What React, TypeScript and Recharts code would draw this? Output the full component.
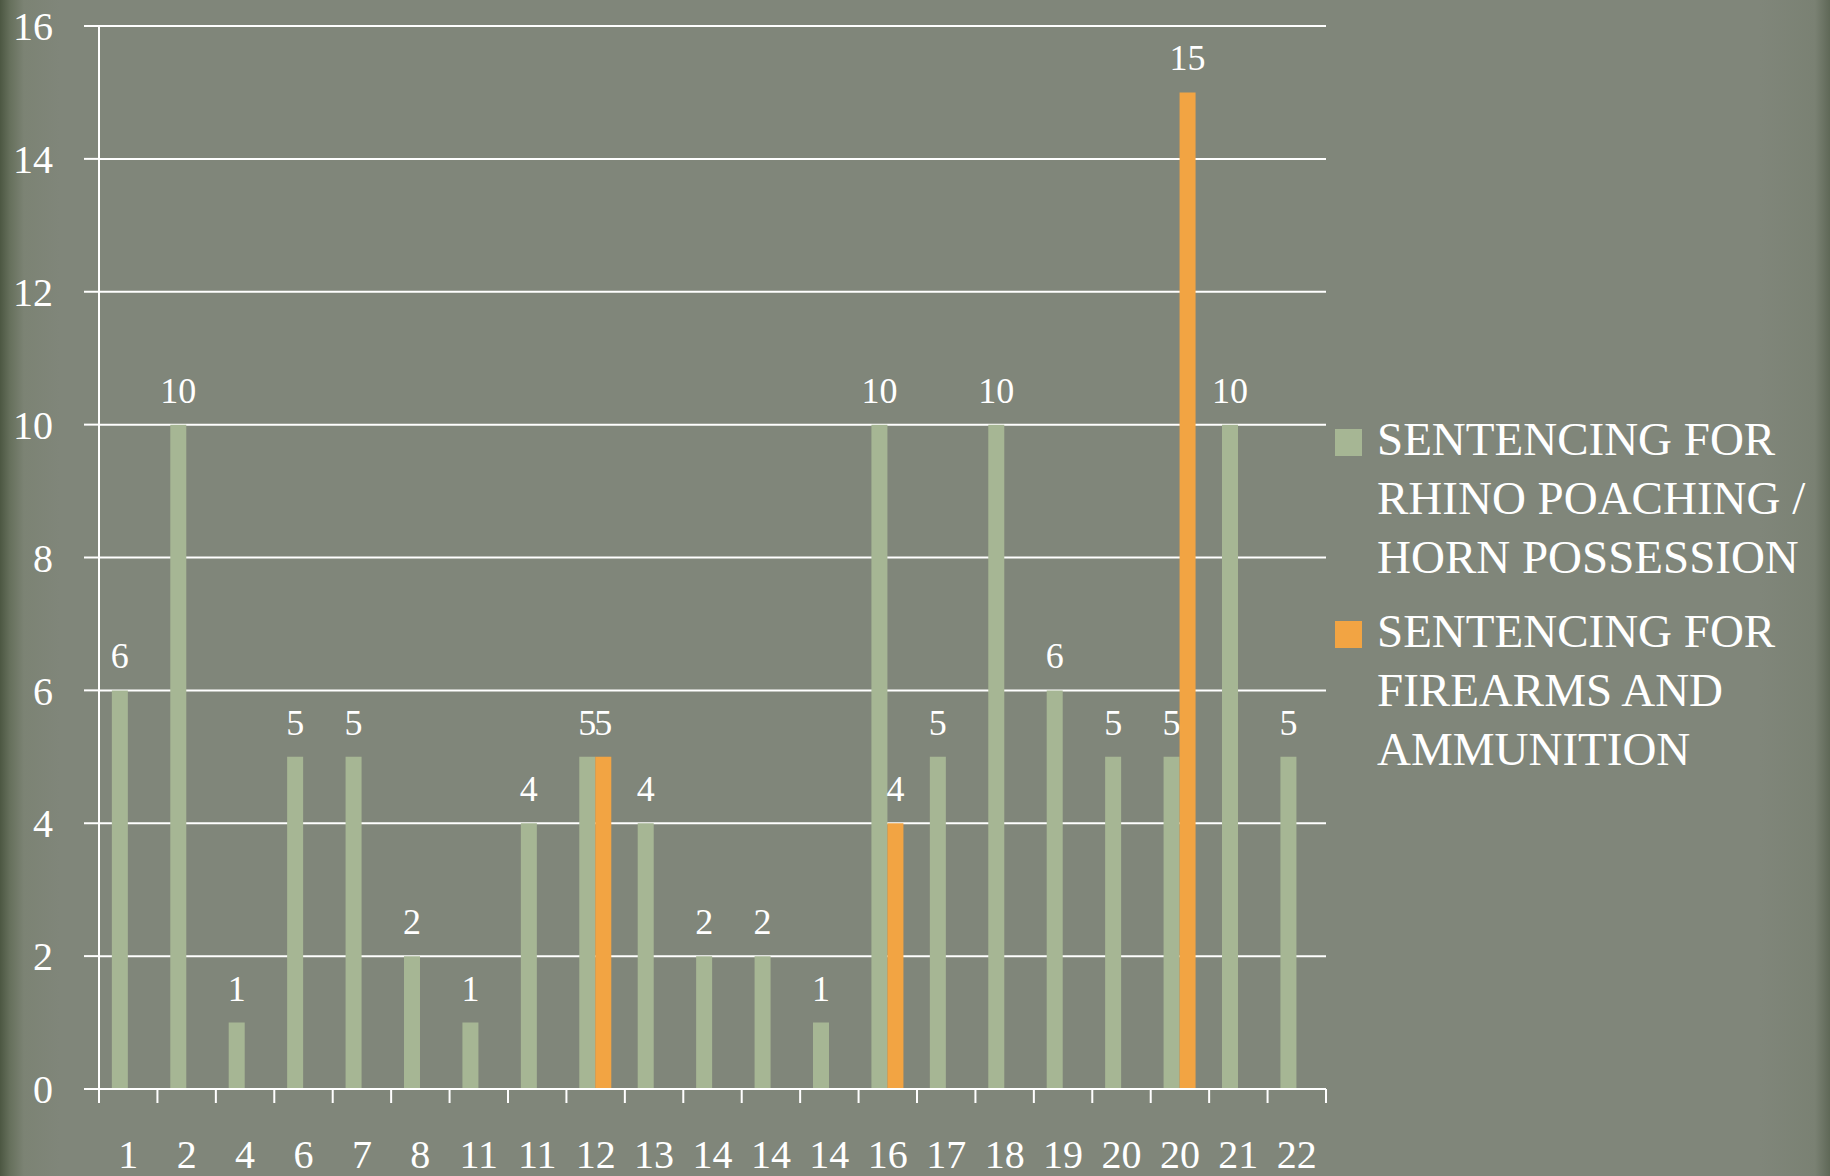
import { BarChart, Bar, XAxis, YAxis, CartesianGrid, Legend, LabelList } from "recharts";

// sentencing cases (x labels repeat as in the source slide)
const caseLabels = ["1", "2", "4", "6", "7", "8", "11", "11", "12", "13", "14", "14", "14", "16", "17", "18", "19", "20", "20", "21", "22"];
const rhinoYears = [6, 10, 1, 5, 5, 2, 1, 4, 5, 4, 2, 2, 1, 10, 5, 10, 6, 5, 5, 10, 5];
const firearmYears: (number | null)[] = [null, null, null, null, null, null, null, null, 5, null, null, null, null, 4, null, null, null, null, 15, null, null];
const yTicks = [0, 2, 4, 6, 8, 10, 12, 14, 16];

const rhinoName = "SENTENCING FOR RHINO POACHING / HORN POSSESSION";
const firearmName = "SENTENCING FOR FIREARMS AND AMMUNITION";
const legendOrder = [rhinoName, firearmName];
const rhinoLines = ["SENTENCING FOR", "RHINO POACHING /", "HORN POSSESSION"];
const firearmLines = ["SENTENCING FOR", "FIREARMS AND", "AMMUNITION"];

const GREEN = "#A6B694";
const ORANGE = "#F2A443";
const FONT = "'Liberation Serif', 'Times New Roman', serif";

const data = caseLabels.map((c, i) => ({
  label: c,
  rhino: rhinoYears[i],
  firearm: firearmYears[i],
}));

function CaseTick(props: any) {
  const { x, y, payload, index } = props;
  const half = payload.offset || 0;
  const last = index === caseLabels.length - 1;
  return (
    <g>
      <line x1={x - half} x2={x - half} y1={y} y2={y + 14} stroke="#fff" strokeWidth={2} />
      {last && <line x1={x + half} x2={x + half} y1={y} y2={y + 14} stroke="#fff" strokeWidth={2} />}
      <text x={x} y={y + 79} textAnchor="middle" fill="#fff" fontSize={40} fontFamily={FONT}>
        {payload.value}
      </text>
    </g>
  );
}

function LegendBox(props: any) {
  const items = [...(props.payload || [])].sort(
    (a: any, b: any) => legendOrder.indexOf(a.value) - legendOrder.indexOf(b.value)
  );
  return (
    <div style={{ fontFamily: FONT, color: "#fff", fontSize: 47, lineHeight: "59px" }}>
      {items.map((it: any, i: number) => {
        const lines = it.value === rhinoName ? rhinoLines : firearmLines;
        return (
          <div key={i} style={{ display: "flex", alignItems: "flex-start", marginBottom: 15 }}>
            <div style={{ width: 27, height: 27, background: it.color, marginTop: 19, marginRight: 15, flex: "none" }} />
            <div style={{ whiteSpace: "nowrap" }}>
              {lines.map((l) => (
                <div key={l}>{l}</div>
              ))}
            </div>
          </div>
        );
      })}
    </div>
  );
}

export default function App() {
  return (
    <div
      style={{
        position: "absolute",
        left: 0,
        top: 0,
        width: 1830,
        height: 1176,
        background: "linear-gradient(90deg, #4c5742 0px, #66705c 10px, #7c8374 24px, #80867a 60px, #80867a 1760px, #7a8173 1815px, #5f6857 1830px)",
      }}
    >
      <BarChart
        width={1830}
        height={1176}
        data={data}
        margin={{ top: 26, right: 14, bottom: 0, left: 0 }}
        barCategoryGap="22%"
        barGap={0}
      >
        <CartesianGrid vertical={false} stroke="#fff" strokeWidth={2} />
        <XAxis
          dataKey="label"
          interval={0}
          height={87}
          tickSize={0}
          tickMargin={0}
          tickLine={false}
          axisLine={{ stroke: "#fff", strokeWidth: 2 }}
          tick={<CaseTick />}
        />
        <YAxis
          domain={[0, 16]}
          ticks={yTicks}
          width={99}
          tickSize={15}
          tickMargin={31}
          axisLine={{ stroke: "#fff", strokeWidth: 2 }}
          tickLine={{ stroke: "#fff", strokeWidth: 2 }}
          tick={{ fill: "#fff", fontSize: 40, fontFamily: FONT }}
        />
        <Legend
          layout="vertical"
          align="right"
          verticalAlign="middle"
          width={490}
          wrapperStyle={{ left: 1335, top: 410 }}
          content={<LegendBox />}
        />
        <Bar dataKey="rhino" name={rhinoName} fill={GREEN} isAnimationActive={false}>
          <LabelList dataKey="rhino" position="top" offset={22} fill="#fff" fontSize={36} fontFamily={FONT} />
        </Bar>
        <Bar dataKey="firearm" name={firearmName} fill={ORANGE} isAnimationActive={false}>
          <LabelList dataKey="firearm" position="top" offset={22} fill="#fff" fontSize={36} fontFamily={FONT} />
        </Bar>
      </BarChart>
    </div>
  );
}
